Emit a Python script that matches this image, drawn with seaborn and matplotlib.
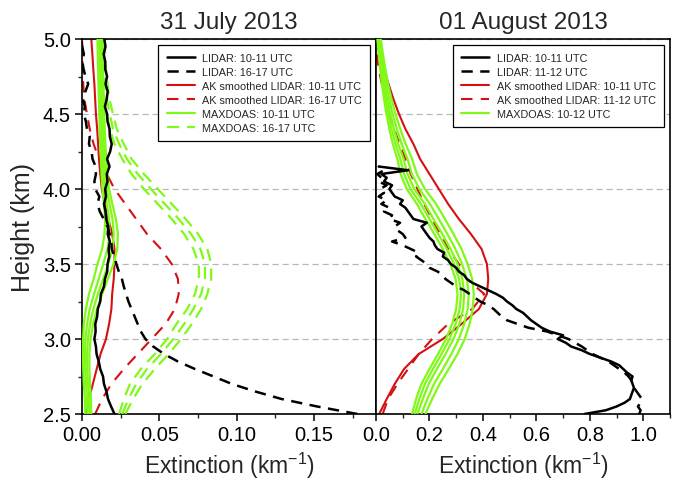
import numpy as np
import pandas as pd
import matplotlib
matplotlib.use("Agg")
import matplotlib.pyplot as plt
from matplotlib.lines import Line2D
from matplotlib.ticker import MultipleLocator, FormatStrFormatter
import seaborn as sns

sns.set_style("ticks")
plt.rcParams['font.family'] = ['Liberation Sans', 'DejaVu Sans']
plt.rcParams['mathtext.fontset'] = 'custom'
plt.rcParams['mathtext.rm'] = 'Liberation Sans'
plt.rcParams['mathtext.it'] = 'Liberation Sans:italic'
plt.rcParams['mathtext.bf'] = 'Liberation Sans:bold'

# ---------------- data ----------------
panel_titles = ["31 July 2013", "01 August 2013"]
legend_left = ["LIDAR: 10-11 UTC", "LIDAR: 16-17 UTC",
               "AK smoothed LIDAR: 10-11 UTC", "AK smoothed LIDAR: 16-17 UTC",
               "MAXDOAS: 10-11 UTC", "MAXDOAS: 16-17 UTC"]
legend_right = ["LIDAR: 10-11 UTC", "LIDAR: 11-12 UTC",
                "AK smoothed LIDAR: 10-11 UTC", "AK smoothed LIDAR: 11-12 UTC",
                "MAXDOAS: 10-12 UTC"]

# height grids (km)
h_coarse = [2.5, 2.6, 2.7, 2.8, 2.9, 3.0, 3.1, 3.2, 3.3, 3.4, 3.5, 3.6, 3.7,
            3.8, 3.9, 4.0, 4.1, 4.2, 4.3, 4.4, 4.5, 4.6, 4.7, 4.8, 4.9, 5.0]
h_mid = [2.50, 2.55, 2.60, 2.65, 2.70, 2.75, 2.80, 2.85, 2.90, 2.95, 3.00,
         3.05, 3.10, 3.15, 3.20, 3.25, 3.30, 3.35, 3.40, 3.45, 3.50, 3.55,
         3.60, 3.65, 3.70, 3.75, 3.80, 3.85, 3.90, 3.95, 4.00, 4.05, 4.10,
         4.15, 4.20, 4.25, 4.30, 4.35, 4.40, 4.45, 4.50, 4.55, 4.60, 4.65,
         4.70, 4.75, 4.80, 4.85, 4.90, 4.95, 5.00]
h_fine = [2.500, 2.525, 2.550, 2.575, 2.600, 2.625, 2.650, 2.675, 2.700,
          2.725, 2.750, 2.775, 2.800, 2.825, 2.850, 2.875, 2.900, 2.925,
          2.950, 2.975, 3.000, 3.025, 3.050, 3.075, 3.100, 3.125, 3.150,
          3.175, 3.200, 3.225, 3.250, 3.275, 3.300, 3.325, 3.350, 3.375,
          3.400, 3.425, 3.450, 3.475, 3.500, 3.525, 3.550, 3.575, 3.600,
          3.625, 3.650, 3.675, 3.700, 3.725, 3.750, 3.775, 3.800, 3.825,
          3.850, 3.875, 3.900, 3.925, 3.950, 3.975, 4.000, 4.025, 4.050,
          4.075, 4.100, 4.125, 4.150]

# ---- 31 July 2013 ----
jul_lidar_1011 = [0.0210, 0.0188, 0.0168, 0.0158, 0.0142, 0.0136, 0.0118, 0.0108,
                  0.0094, 0.0090, 0.0080, 0.0088, 0.0086, 0.0098, 0.0102, 0.0118,
                  0.0122, 0.0142, 0.0148, 0.0163, 0.0165, 0.0176, 0.0172, 0.0180,
                  0.0166, 0.0170, 0.0156, 0.0152, 0.0142, 0.0155, 0.0150, 0.0165,
                  0.0160, 0.0178, 0.0162, 0.0182, 0.0192, 0.0180, 0.0178, 0.0165,
                  0.0162, 0.0148, 0.0160, 0.0166, 0.0152, 0.0162, 0.0150, 0.0150,
                  0.0140, 0.0152, 0.0144]
jul_lidar_1617 = [0.178, 0.152, 0.129, 0.112, 0.097, 0.085, 0.073, 0.062, 0.053,
                  0.046, 0.041, 0.038, 0.036, 0.034, 0.032, 0.030, 0.0285, 0.0270,
                  0.0258, 0.0238, 0.0222, 0.0210, 0.0192, 0.0190, 0.0178, 0.0165,
                  0.0140, 0.0115, 0.0100, 0.0112, 0.0085, 0.0080, 0.0090, 0.0088,
                  0.0068, 0.0062, 0.0045, 0.0050, 0.0032, 0.0025, 0.0012, 0.0018,
                  0.0006, 0.0022, 0.0040, 0.0022, 0.0010, 0.0002, 0.0012, 0.0001,
                  0.0006]
jul_ak_1011 = [0.0026, 0.0045, 0.0070, 0.0095, 0.0120, 0.0155, 0.0175, 0.0190,
               0.0195, 0.0205, 0.0210, 0.0210, 0.0195, 0.0170, 0.0148, 0.0128,
               0.0118, 0.0110, 0.0104, 0.0098, 0.0090, 0.0085, 0.0080, 0.0073,
               0.0067, 0.0060]
jul_ak_1617 = [0.0085, 0.0130, 0.0190, 0.0270, 0.0360, 0.0450, 0.0540, 0.0600,
               0.0625, 0.0620, 0.0580, 0.0510, 0.0420, 0.0350, 0.0280, 0.0210,
               0.0160, 0.0110, 0.0075, 0.0050, 0.0032, 0.0015, 0.0008, 0.0004,
               0.0002, 0.0001]
jul_maxdoas_1011_a = [0.0020, 0.0018, 0.0012, 0.0008, 0.0006, 0.0007, 0.0012, 0.0025,
                      0.0045, 0.0075, 0.0100, 0.0130, 0.0145, 0.0150, 0.0142, 0.0132,
                      0.0126, 0.0122, 0.0118, 0.0114, 0.0112, 0.0109, 0.0106, 0.0104,
                      0.0102, 0.0100]
jul_maxdoas_1011_b = [0.0035, 0.0032, 0.0026, 0.0021, 0.0019, 0.0022, 0.0033, 0.0050,
                      0.0078, 0.0108, 0.0137, 0.0165, 0.0178, 0.0175, 0.0160, 0.0146,
                      0.0139, 0.0134, 0.0129, 0.0126, 0.0123, 0.0120, 0.0117, 0.0115,
                      0.0113, 0.0111]
jul_maxdoas_1011_c = [0.0048, 0.0045, 0.0039, 0.0034, 0.0033, 0.0038, 0.0052, 0.0073,
                      0.0103, 0.0137, 0.0170, 0.0196, 0.0205, 0.0197, 0.0178, 0.0160,
                      0.0151, 0.0145, 0.0140, 0.0136, 0.0133, 0.0130, 0.0127, 0.0125,
                      0.0123, 0.0121]
jul_maxdoas_1011_d = [0.0060, 0.0058, 0.0052, 0.0048, 0.0048, 0.0055, 0.0072, 0.0097,
                      0.0130, 0.0167, 0.0203, 0.0228, 0.0232, 0.0219, 0.0196, 0.0175,
                      0.0164, 0.0157, 0.0151, 0.0147, 0.0144, 0.0141, 0.0138, 0.0136,
                      0.0134, 0.0132]
jul_maxdoas_1617_a = [0.024, 0.027, 0.031, 0.038, 0.047, 0.055, 0.061, 0.068, 0.073,
                      0.0755, 0.0755, 0.072, 0.066, 0.058, 0.049, 0.040, 0.032, 0.026,
                      0.021, 0.018, 0.016, 0.0145, 0.0135, 0.013, 0.0125, 0.012]
jul_maxdoas_1617_b = [0.026, 0.030, 0.035, 0.042, 0.051, 0.059, 0.066, 0.072, 0.077,
                      0.0795, 0.0795, 0.0765, 0.0705, 0.0625, 0.0535, 0.0445, 0.036,
                      0.029, 0.024, 0.020, 0.018, 0.016, 0.015, 0.014, 0.0135, 0.013]
jul_maxdoas_1617_c = [0.028, 0.033, 0.039, 0.047, 0.056, 0.064, 0.071, 0.077, 0.081,
                      0.0835, 0.0835, 0.081, 0.075, 0.067, 0.058, 0.049, 0.040, 0.032,
                      0.027, 0.0225, 0.020, 0.0178, 0.0165, 0.0155, 0.015, 0.0145]

# ---- 01 August 2013 ----
aug_lidar_1011 = [0.78, 0.86, 0.90, 0.93, 0.95, 0.955, 0.96, 0.965, 0.96, 0.955,
                  0.96, 0.94, 0.925, 0.91, 0.88, 0.84, 0.80, 0.77, 0.73, 0.71,
                  0.68, 0.70, 0.65, 0.62, 0.60, 0.58, 0.565, 0.55, 0.525, 0.51,
                  0.49, 0.475, 0.45, 0.42, 0.39, 0.36, 0.34, 0.33, 0.31, 0.30,
                  0.28, 0.27, 0.25, 0.255, 0.23, 0.22, 0.215, 0.20, 0.19, 0.18,
                  0.17, 0.19, 0.14, 0.13, 0.12, 0.11, 0.09, 0.10, 0.07, 0.06,
                  0.05, 0.06, 0.03, 0.04, 0.02, 0.12, 0.01]
aug_lidar_1112 = [0.985, 0.99, 0.98, 0.99, 0.995, 0.985, 0.975, 0.965, 0.96, 0.955,
                  0.945, 0.93, 0.91, 0.89, 0.87, 0.84, 0.81, 0.79, 0.77, 0.745,
                  0.72, 0.68, 0.64, 0.57, 0.53, 0.49, 0.47, 0.455, 0.44, 0.42,
                  0.39, 0.37, 0.35, 0.33, 0.30, 0.28, 0.26, 0.25, 0.23, 0.20,
                  0.19, 0.17, 0.15, 0.16, 0.13, 0.10, 0.06, 0.11, 0.10, 0.08,
                  0.07, 0.09, 0.05, 0.06, 0.03, 0.05, 0.02, 0.04, 0.01, 0.03,
                  0.015, 0.04, 0.01, 0.02, 0.005, 0.03, 0.01]
aug_ak_1011 = [0.012, 0.040, 0.070, 0.105, 0.160, 0.250, 0.320, 0.385, 0.415, 0.420,
               0.415, 0.395, 0.355, 0.310, 0.270, 0.235, 0.200, 0.165, 0.140, 0.110,
               0.086, 0.065, 0.047, 0.028, 0.012, 0.002]
aug_ak_1112 = [0.025, 0.045, 0.080, 0.120, 0.160, 0.210, 0.270, 0.360, 0.405, 0.340,
               0.310, 0.270, 0.240, 0.210, 0.180, 0.155, 0.130, 0.110, 0.088, 0.068,
               0.050, 0.035, 0.022, 0.010, 0.003, 0.000]
aug_maxdoas_a = [0.135, 0.150, 0.170, 0.200, 0.232, 0.262, 0.285, 0.300, 0.305, 0.298,
                 0.278, 0.250, 0.218, 0.185, 0.153, 0.115, 0.092, 0.080, 0.063, 0.050,
                 0.039, 0.030, 0.022, 0.016, 0.010, 0.005]
aug_maxdoas_b = [0.145, 0.162, 0.183, 0.213, 0.245, 0.275, 0.298, 0.313, 0.318, 0.311,
                 0.292, 0.265, 0.233, 0.200, 0.168, 0.129, 0.105, 0.091, 0.073, 0.058,
                 0.046, 0.036, 0.027, 0.020, 0.013, 0.008]
aug_maxdoas_c = [0.155, 0.175, 0.197, 0.228, 0.260, 0.290, 0.312, 0.326, 0.330, 0.323,
                 0.305, 0.279, 0.248, 0.215, 0.183, 0.143, 0.118, 0.103, 0.083, 0.067,
                 0.053, 0.042, 0.032, 0.024, 0.017, 0.011]
aug_maxdoas_d = [0.170, 0.192, 0.217, 0.250, 0.282, 0.310, 0.330, 0.343, 0.347, 0.340,
                 0.322, 0.297, 0.267, 0.235, 0.202, 0.162, 0.134, 0.118, 0.096, 0.078,
                 0.062, 0.049, 0.038, 0.029, 0.021, 0.014]
aug_maxdoas_e = [0.185, 0.210, 0.238, 0.272, 0.305, 0.332, 0.350, 0.362, 0.366, 0.360,
                 0.343, 0.320, 0.290, 0.258, 0.225, 0.183, 0.153, 0.135, 0.111, 0.091,
                 0.073, 0.058, 0.045, 0.035, 0.026, 0.018]

# ---------------- style ----------------
BLACK = "#000000"
RED = "#d41010"
GREEN = "#80f818"
LS_BLACK = (0, (4.5, 3.0))
LS_RED = (0, (5.5, 4.0))
LS_GREEN = (0, (5.5, 3.5))
LW_BLACK, LW_RED, LW_GREEN = 1.8, 1.5, 1.6

W, H = 679, 485
fig = plt.figure(figsize=(W / 100, H / 100), dpi=100)
fig.patch.set_facecolor("white")
axL = fig.add_axes([82 / W, 70 / H, 294 / W, 375 / H])
axR = fig.add_axes([376 / W, 70 / H, 294 / W, 375 / H], sharey=axL)


def draw(ax, x, y, color, lw, ls, z):
    sns.lineplot(x=x, y=y, ax=ax, color=color, linewidth=lw, linestyle=ls,
                 sort=False, estimator=None, legend=False, zorder=z)


# left panel
draw(axL, jul_ak_1011, h_coarse, RED, LW_RED, "-", 2)
draw(axL, jul_ak_1617, h_coarse, RED, LW_RED, LS_RED, 2)
for s in [jul_maxdoas_1011_a, jul_maxdoas_1011_b, jul_maxdoas_1011_c, jul_maxdoas_1011_d]:
    draw(axL, s, h_coarse, GREEN, LW_GREEN, "-", 3)
for s in [jul_maxdoas_1617_a, jul_maxdoas_1617_b, jul_maxdoas_1617_c]:
    draw(axL, s, h_coarse, GREEN, LW_GREEN, LS_GREEN, 3)
draw(axL, jul_lidar_1011, h_mid, BLACK, LW_BLACK, "-", 4)
draw(axL, jul_lidar_1617, h_mid, BLACK, LW_BLACK, LS_BLACK, 4)

# right panel
draw(axR, aug_ak_1011, h_coarse, RED, LW_RED, "-", 2)
draw(axR, aug_ak_1112, h_coarse, RED, LW_RED, LS_RED, 2)
for s in [aug_maxdoas_a, aug_maxdoas_b, aug_maxdoas_c, aug_maxdoas_d, aug_maxdoas_e]:
    draw(axR, s, h_coarse, GREEN, LW_GREEN, "-", 3)
draw(axR, aug_lidar_1011, h_fine, BLACK, LW_BLACK, "-", 4)
draw(axR, aug_lidar_1112, h_fine, BLACK, LW_BLACK, LS_BLACK, 4)

handle_specs_left = [(BLACK, LW_BLACK, "-"), (BLACK, LW_BLACK, LS_BLACK),
                     (RED, LW_RED, "-"), (RED, LW_RED, LS_RED),
                     (GREEN, LW_GREEN, "-"), (GREEN, LW_GREEN, LS_GREEN)]
handle_specs_right = handle_specs_left[:5]

for ax, title, labels, specs, xmax, xmaj, xmin, fmt in [
        (axL, panel_titles[0], legend_left, handle_specs_left, 0.19, 0.05, 0.025, "%.2f"),
        (axR, panel_titles[1], legend_right, handle_specs_right, 1.1, 0.2, 0.1, "%.1f")]:
    ax.set_xlim(0, xmax)
    ax.set_ylim(2.5, 5.0)
    ax.xaxis.set_major_locator(MultipleLocator(xmaj))
    ax.xaxis.set_minor_locator(MultipleLocator(xmin))
    ax.xaxis.set_major_formatter(FormatStrFormatter(fmt))
    ax.yaxis.set_major_locator(MultipleLocator(0.5))
    ax.yaxis.set_minor_locator(MultipleLocator(0.25))
    ax.yaxis.set_major_formatter(FormatStrFormatter("%.1f"))
    ax.yaxis.grid(True, which="major", linestyle=(0, (5, 3)), color="#b8b8b8", linewidth=0.9, zorder=0)
    ax.xaxis.grid(False)
    ax.set_axisbelow(True)
    for sp in ax.spines.values():
        sp.set_visible(True)
        sp.set_linewidth(1.2)
        sp.set_color("black")
    ax.tick_params(axis="both", which="major", direction="out", length=5, width=1.1,
                   labelsize=14.5, colors="black", pad=3)
    ax.tick_params(axis="both", which="minor", direction="out", length=3, width=1.0)
    ax.set_title(title, fontsize=17.5, pad=8)
    ax.set_xlabel("Extinction (km$^{-1}$)", fontsize=16.5, labelpad=4)
    handles = [Line2D([0], [0], color=c, lw=lw, linestyle=ls) for c, lw, ls in specs]
    leg = ax.legend(handles, labels, loc="upper right", fontsize=7.8, frameon=True,
                    fancybox=False, edgecolor="black", framealpha=1.0,
                    borderaxespad=0.55, labelspacing=0.36, handlelength=2.6,
                    handletextpad=0.7, borderpad=0.75)
    leg.get_frame().set_linewidth(0.9)

axL.set_ylabel("Height (km)", fontsize=18, labelpad=6)
axR.set_ylabel("")
axR.tick_params(axis="y", which="both", left=False, labelleft=False)

fig.savefig("out.png", dpi=100, facecolor="white")
